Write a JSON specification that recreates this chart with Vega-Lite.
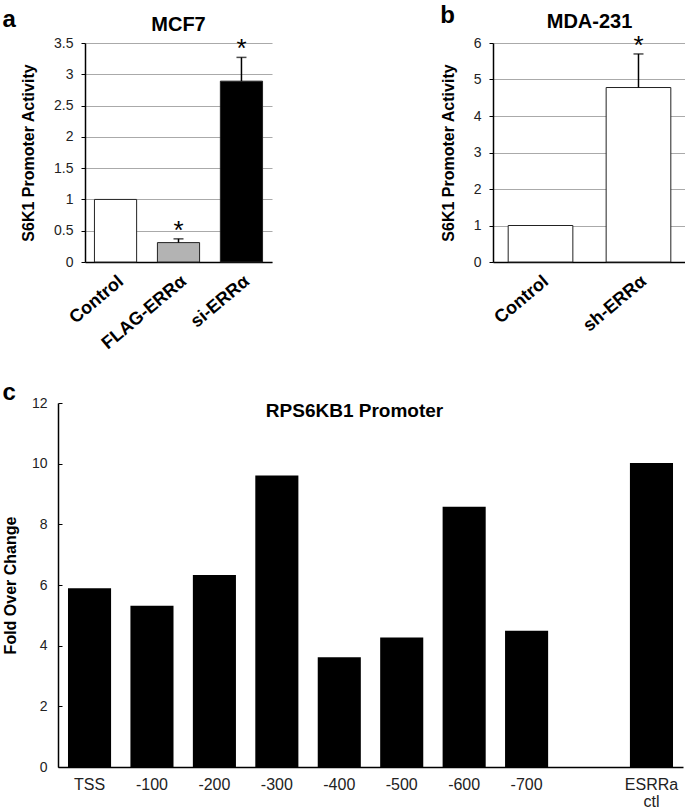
{
  "$schema": "https://vega.github.io/schema/vega-lite/v6.json",
  "background": "white",
  "padding": {"left": 2, "top": 4, "right": 0, "bottom": 0},
  "config": {
    "font": "Liberation Sans",
    "view": {"stroke": null},
    "axis": {"labelColor": "#222", "domainColor": "#000", "domainWidth": 1.5, "tickColor": "#000", "titleColor": "#000", "titleFontWeight": "bold", "titleFontSize": 16, "labelFontSize": 14},
    "title": {"color": "#000", "fontWeight": "bold"}
  },
  "datasets": {
    "mcf7": [
      {"cond": "Control", "value": 1.0, "hi": null, "sig": null},
      {"cond": "FLAG-ERRα", "value": 0.31, "hi": 0.37, "sig": "*"},
      {"cond": "si-ERRα", "value": 2.89, "hi": 3.27, "sig": "*"}
    ],
    "mda": [
      {"cond": "Control", "value": 1.0, "hi": null, "sig": null},
      {"cond": "sh-ERRα", "value": 4.78, "hi": 5.7, "sig": "*"}
    ],
    "rps": [
      {"site": "TSS", "value": 5.89},
      {"site": "-100", "value": 5.32},
      {"site": "-200", "value": 6.33},
      {"site": "-300", "value": 9.61},
      {"site": "-400", "value": 3.62},
      {"site": "-500", "value": 4.27},
      {"site": "-600", "value": 8.58},
      {"site": "-700", "value": 4.49},
      {"site": "ESRRa ctl", "value": 10.02}
    ]
  },
  "spacing": 28,
  "vconcat": [
    {
      "spacing": -57,
      "hconcat": [
        {
          "width": 1,
          "height": 1,
          "data": {"values": []},
          "mark": {"type": "point", "opacity": 0},
          "encoding": {}
        },
        {
          "spacing": 168,
          "hconcat": [
            {
              "title": {"text": "a", "anchor": "start", "frame": "bounds", "fontSize": 24, "offset": 0, "dx": -18, "dy": 16.5},
              "vconcat": [
                {
                  "width": 187,
                  "height": 219,
                  "title": {"text": "MCF7", "fontSize": 20, "anchor": "middle", "frame": "group", "offset": 1},
                  "data": {"name": "mcf7"},
                  "encoding": {
                    "x": {"field": "cond", "type": "nominal", "sort": null,
                      "scale": {"domain": ["Control", "FLAG-ERRα", "si-ERRα"], "paddingInner": 0.33, "paddingOuter": 0.15},
                      "axis": {"title": null, "labelAngle": -40, "labelFontWeight": "bold", "labelFontSize": 18, "labelColor": "#000", "ticks": false, "labelPadding": 10}}
                  },
                  "layer": [
                    {
                      "mark": {"type": "bar", "stroke": "#222", "strokeWidth": 1},
                      "encoding": {
                        "y": {"field": "value", "type": "quantitative", "scale": {"domain": [0, 3.5], "nice": false},
                          "axis": {"title": "S6K1 Promoter Activity", "values": [0, 0.5, 1, 1.5, 2, 2.5, 3, 3.5], "format": "~g", "labelOverlap": false, "grid": true, "gridColor": "#aaa", "gridWidth": 1.2, "tickSize": 4, "labelPadding": 8, "titlePadding": 17}},
                        "color": {"field": "cond", "type": "nominal", "scale": {"domain": ["Control", "FLAG-ERRα", "si-ERRα"], "range": ["#ffffff", "#b3b3b3", "#000000"]}, "legend": null}
                      }
                    },
                    {
                      "transform": [{"filter": "datum.hi != null"}],
                      "mark": {"type": "rule", "color": "#000", "strokeWidth": 1.5},
                      "encoding": {"y": {"field": "value", "type": "quantitative",
                          "axis": {"title": "S6K1 Promoter Activity", "values": [0, 0.5, 1, 1.5, 2, 2.5, 3, 3.5], "format": "~g", "labelOverlap": false, "grid": true, "gridColor": "#aaa", "gridWidth": 1.2, "tickSize": 4, "labelPadding": 8, "titlePadding": 17}},
                        "y2": {"field": "hi"}}
                    },
                    {
                      "transform": [{"filter": "datum.hi != null"}],
                      "mark": {"type": "tick", "orient": "horizontal", "size": 10, "thickness": 1.5, "color": "#000"},
                      "encoding": {"y": {"field": "hi", "type": "quantitative",
                          "axis": {"title": "S6K1 Promoter Activity", "values": [0, 0.5, 1, 1.5, 2, 2.5, 3, 3.5], "format": "~g", "labelOverlap": false, "grid": true, "gridColor": "#aaa", "gridWidth": 1.2, "tickSize": 4, "labelPadding": 8, "titlePadding": 17}}}
                    },
                    {
                      "transform": [{"filter": "datum.sig != null"}],
                      "mark": {"type": "text", "fontSize": 26, "baseline": "alphabetic", "dy": 0, "color": "#000"},
                      "encoding": {"y": {"field": "hi", "type": "quantitative",
                          "axis": {"title": "S6K1 Promoter Activity", "values": [0, 0.5, 1, 1.5, 2, 2.5, 3, 3.5], "format": "~g", "labelOverlap": false, "grid": true, "gridColor": "#aaa", "gridWidth": 1.2, "tickSize": 4, "labelPadding": 8, "titlePadding": 17}},
                        "text": {"field": "sig"}}
                    }
                  ]
                }
              ]
            },
            {
              "title": {"text": "b", "anchor": "start", "frame": "bounds", "fontSize": 24, "offset": 0, "dx": 0, "dy": 16.5},
              "vconcat": [
                {
                  "width": 193,
                  "height": 219,
                  "title": {"text": "MDA-231", "fontSize": 20, "anchor": "middle", "frame": "group", "offset": 1},
                  "data": {"name": "mda"},
                  "encoding": {
                    "x": {"field": "cond", "type": "nominal", "sort": null,
                      "scale": {"domain": ["Control", "sh-ERRα"], "paddingInner": 0.34, "paddingOuter": 0.155},
                      "axis": {"title": null, "labelAngle": -40, "labelFontWeight": "bold", "labelFontSize": 18, "labelColor": "#000", "ticks": false, "labelPadding": 10}}
                  },
                  "layer": [
                    {
                      "mark": {"type": "bar", "stroke": "#222", "strokeWidth": 1},
                      "encoding": {
                        "y": {"field": "value", "type": "quantitative", "scale": {"domain": [0, 6], "nice": false},
                          "axis": {"title": "S6K1 Promoter Activity", "values": [0, 1, 2, 3, 4, 5, 6], "format": "~g", "labelOverlap": false, "grid": true, "gridColor": "#aaa", "gridWidth": 1.2, "tickSize": 4, "labelPadding": 8, "titlePadding": 17}},
                        "color": {"field": "cond", "type": "nominal", "scale": {"domain": ["Control", "sh-ERRα"], "range": ["#ffffff", "#404040"]}, "legend": null}
                      }
                    },
                    {
                      "transform": [{"filter": "datum.hi != null"}],
                      "mark": {"type": "rule", "color": "#000", "strokeWidth": 1.5},
                      "encoding": {"y": {"field": "value", "type": "quantitative",
                          "axis": {"title": "S6K1 Promoter Activity", "values": [0, 1, 2, 3, 4, 5, 6], "format": "~g", "labelOverlap": false, "grid": true, "gridColor": "#aaa", "gridWidth": 1.2, "tickSize": 4, "labelPadding": 8, "titlePadding": 17}},
                        "y2": {"field": "hi"}}
                    },
                    {
                      "transform": [{"filter": "datum.hi != null"}],
                      "mark": {"type": "tick", "orient": "horizontal", "size": 10, "thickness": 1.5, "color": "#000"},
                      "encoding": {"y": {"field": "hi", "type": "quantitative",
                          "axis": {"title": "S6K1 Promoter Activity", "values": [0, 1, 2, 3, 4, 5, 6], "format": "~g", "labelOverlap": false, "grid": true, "gridColor": "#aaa", "gridWidth": 1.2, "tickSize": 4, "labelPadding": 8, "titlePadding": 17}}}
                    },
                    {
                      "transform": [{"filter": "datum.sig != null"}],
                      "mark": {"type": "text", "fontSize": 26, "baseline": "alphabetic", "dy": 0, "color": "#000"},
                      "encoding": {"y": {"field": "hi", "type": "quantitative",
                          "axis": {"title": "S6K1 Promoter Activity", "values": [0, 1, 2, 3, 4, 5, 6], "format": "~g", "labelOverlap": false, "grid": true, "gridColor": "#aaa", "gridWidth": 1.2, "tickSize": 4, "labelPadding": 8, "titlePadding": 17}},
                        "text": {"field": "sig"}}
                    }
                  ]
                }
              ]
            }
          ]
        }
      ]
    },
    {
      "title": {"text": "c", "anchor": "start", "frame": "bounds", "fontSize": 24, "offset": -9, "dx": 0},
      "vconcat": [
        {
          "width": 625,
          "height": 364,
          "title": {"text": "RPS6KB1 Promoter", "fontSize": 19, "anchor": "middle", "frame": "group", "offset": -25, "dx": -16},
          "data": {"name": "rps"},
          "mark": {"type": "bar", "color": "#000"},
          "encoding": {
            "x": {"field": "site", "type": "nominal", "sort": null,
              "scale": {"domain": ["TSS", "-100", "-200", "-300", "-400", "-500", "-600", "-700", " ", "ESRRa ctl"], "paddingInner": 0.31, "paddingOuter": 0.16},
              "axis": {"title": null, "labelAngle": 0, "labelFontSize": 16, "ticks": false, "labelPadding": 9, "labelLineHeight": 17, "labelExpr": "datum.value == 'ESRRa ctl' ? ['ESRRa', 'ctl'] : datum.value"}},
            "y": {"field": "value", "type": "quantitative", "scale": {"domain": [0, 12], "nice": false},
              "axis": {"title": "Fold Over Change", "values": [0, 2, 4, 6, 8, 10, 12], "grid": false, "tickSize": -4, "labelPadding": 15, "titlePadding": 13}}
          }
        }
      ]
    }
  ]
}
